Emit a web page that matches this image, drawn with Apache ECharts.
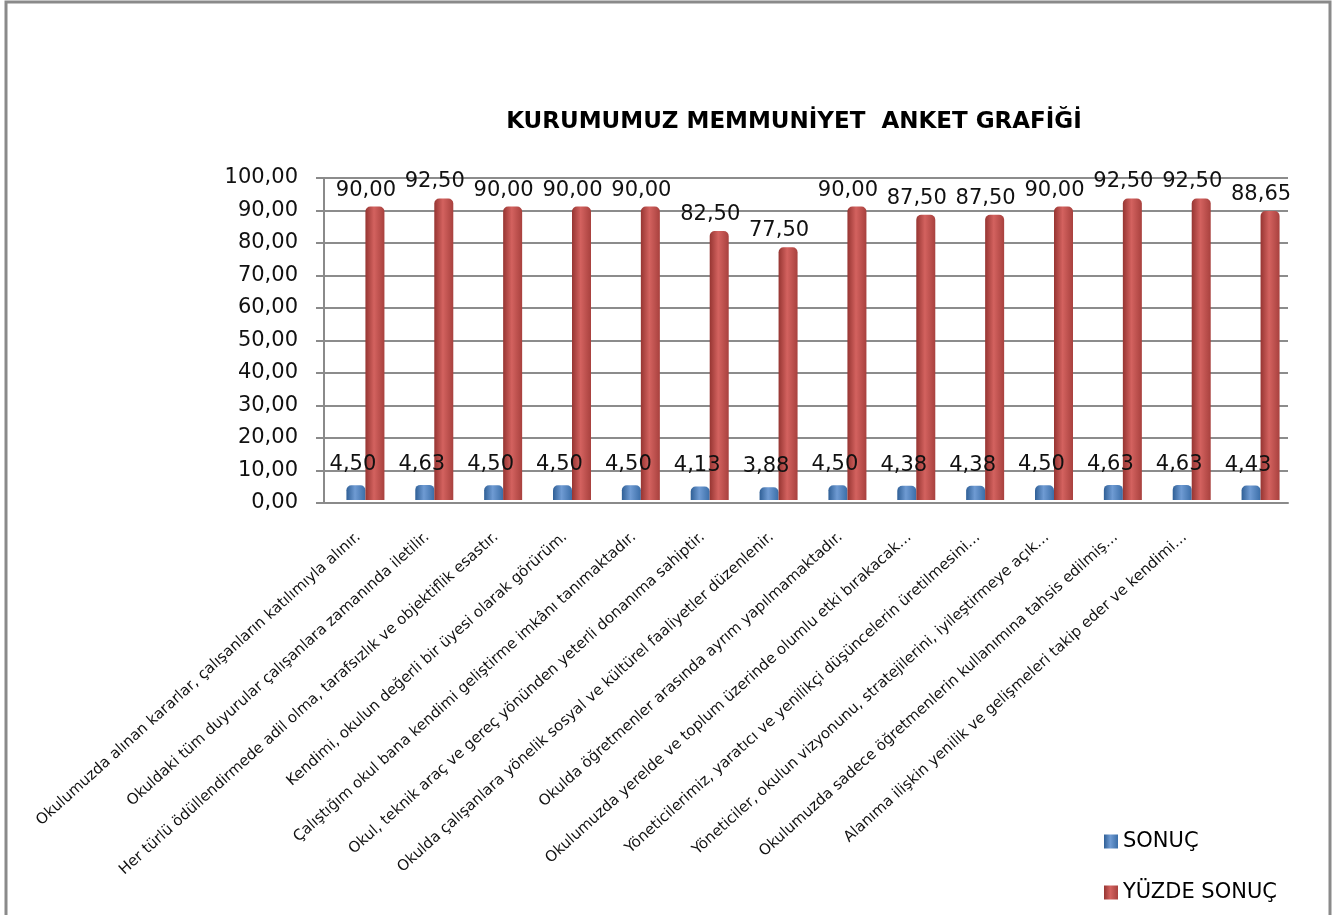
<!DOCTYPE html>
<html>
<head>
<meta charset="utf-8">
<script src="https://cdn.jsdelivr.net/npm/echarts@6/dist/echarts.min.js"></script>
<style>
  html, body { margin: 0; padding: 0; background: #fff; }
  #chart { width: 1333px; height: 915px; }
</style>
</head>
<body>
<div id="chart"></div>
<script>
// anket maddeleri (son sütun ortalama, etiketsiz)
var categories = [
    'Okulumuzda alınan kararlar, çalışanların katılımıyla alınır.',
    'Okuldaki tüm duyurular çalışanlara zamanında iletilir.',
    'Her türlü ödüllendirmede adil olma, tarafsızlık ve objektiflik esastır.',
    'Kendimi, okulun değerli bir üyesi olarak görürüm.',
    'Çalıştığım okul bana kendimi geliştirme imkânı tanımaktadır.',
    'Okul, teknik araç ve gereç yönünden yeterli donanıma sahiptir.',
    'Okulda çalışanlara yönelik sosyal ve kültürel faaliyetler düzenlenir.',
    'Okulda öğretmenler arasında ayrım yapılmamaktadır.',
    'Okulumuzda yerelde ve toplum üzerinde olumlu etki bırakacak…',
    'Yöneticilerimiz, yaratıcı ve yenilikçi düşüncelerin üretilmesini…',
    'Yöneticiler, okulun vizyonunu, stratejilerini, iyileştirmeye açık…',
    'Okulumuzda sadece öğretmenlerin kullanımına tahsis edilmiş…',
    'Alanıma ilişkin yenilik ve gelişmeleri takip eder ve kendimi…',
    ''
];
var sonuc = [4.50, 4.63, 4.50, 4.50, 4.50, 4.13, 3.88, 4.50, 4.38, 4.38, 4.50, 4.63, 4.63, 4.43];
var yuzdeSonuc = [90.00, 92.50, 90.00, 90.00, 90.00, 82.50, 77.50, 90.00, 87.50, 87.50, 90.00, 92.50, 92.50, 88.65];
var yTicks = [0, 10, 20, 30, 40, 50, 60, 70, 80, 90, 100];

(function() {
    var FONT = 'DejaVu Sans';
    var GRAY = '#8a8a8a';

    function fmt(v) {
        return Number(v).toFixed(2).replace('.', ',');
    }

    function cylinder(dark, mid, light) {
        return new echarts.graphic.LinearGradient(0, 0, 1, 0, [
            { offset: 0, color: dark },
            { offset: 0.45, color: light },
            { offset: 1, color: mid }
        ]);
    }

    function valueLabel(dist, dx) {
        return {
            show: true,
            position: 'top',
            distance: dist,
            offset: [dx, 0],
            fontFamily: FONT,
            fontSize: 21,
            color: '#111',
            formatter: function(p) { return fmt(p.value); }
        };
    }

    var option = {
        backgroundColor: '#fff',
        animation: false,
        color: ['#4F81BD', '#C0504D'],
        title: {
            text: 'KURUMUMUZ MEMMUNİYET  ANKET GRAFİĞİ',
            left: 789,
            top: 106,
            textAlign: 'center',
            textStyle: {
                fontFamily: FONT,
                fontSize: 23,
                fontWeight: 'bold',
                color: '#000'
            }
        },
        graphic: [{
            type: 'rect',
            shape: { x: 6, y: 2, width: 1324, height: 930 },
            style: { fill: 'none', stroke: GRAY, lineWidth: 3 },
            silent: true
        }],
        legend: {
            orient: 'vertical',
            left: 1099,
            top: 826,
            itemWidth: 14,
            itemHeight: 14,
            itemGap: 30,
            icon: 'rect',
            textStyle: { fontFamily: FONT, fontSize: 21, color: '#000' },
            data: ['SONUÇ', 'YÜZDE SONUÇ']
        },
        // grid 0: eksenler ve kılavuz çizgiler (ön yüz), grid 1: çubuklar (derinlik kayması)
        grid: [
            { left: 324, right: 45, top: 178, bottom: 412 },
            { left: 331, right: 38, top: 174, bottom: 415 }
        ],
        xAxis: [{
            type: 'category',
            gridIndex: 0,
            data: categories,
            axisLine: { lineStyle: { color: GRAY, width: 2 } },
            axisTick: { length: 7, lineStyle: { color: GRAY, width: 2 } },
            axisLabel: {
                interval: 0,
                rotate: 42,
                margin: 32,
                fontFamily: FONT,
                fontSize: 15,
                color: '#111'
            }
        }, {
            type: 'category',
            gridIndex: 1,
            data: categories,
            show: false
        }],
        yAxis: [{
            type: 'value',
            gridIndex: 0,
            min: 0,
            max: yTicks[yTicks.length - 1],
            interval: 10,
            axisLine: { show: true, lineStyle: { color: GRAY, width: 2 } },
            axisTick: { show: true, length: 8, lineStyle: { color: GRAY, width: 2 } },
            splitLine: { lineStyle: { color: '#8c8c8c', width: 2 } },
            axisLabel: {
                margin: 26,
                fontFamily: FONT,
                fontSize: 21,
                color: '#111',
                formatter: fmt
            }
        }, {
            type: 'value',
            gridIndex: 1,
            min: 0,
            max: yTicks[yTicks.length - 1],
            interval: 10,
            show: false,
            splitLine: { show: false }
        }],
        series: [{
            name: 'SONUÇ',
            type: 'bar',
            xAxisIndex: 1,
            yAxisIndex: 1,
            data: sonuc,
            barWidth: 19,
            barGap: '0%',
            itemStyle: {
                color: cylinder('#2f5f96', '#3b6ea8', '#6f9bd3'),
                borderRadius: [5, 5, 0, 0]
            },
            label: valueLabel(10, -3)
        }, {
            name: 'YÜZDE SONUÇ',
            type: 'bar',
            xAxisIndex: 1,
            yAxisIndex: 1,
            data: yuzdeSonuc,
            barWidth: 19,
            itemStyle: {
                color: cylinder('#963532', '#a8413e', '#d3625f'),
                borderRadius: [5, 5, 0, 0]
            },
            label: valueLabel(6, -9)
        }]
    };

    var chart = echarts.init(document.getElementById('chart'));
    chart.setOption(option);
})();
</script>
</body>
</html>
